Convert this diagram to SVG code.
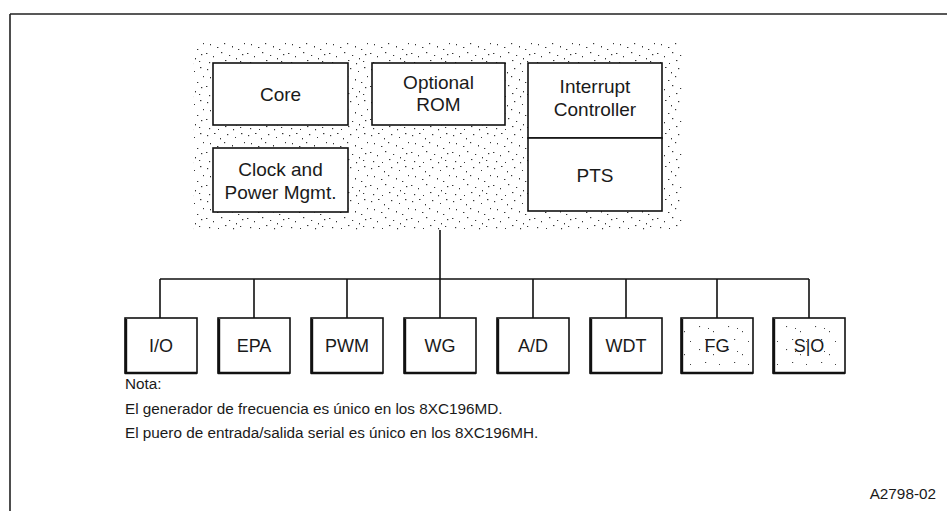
<svg xmlns="http://www.w3.org/2000/svg" width="947" height="511" viewBox="0 0 947 511">
<style>
.box{fill:#fff;stroke:#111;stroke-width:1.6}
.sh{fill:none;stroke:#111;stroke-width:2.4}
.lbl{font-family:"Liberation Sans",Arial,sans-serif;font-size:19px;fill:#1a1a1a;text-anchor:middle}
.sm{font-family:"Liberation Sans",Arial,sans-serif;font-size:18px;fill:#1a1a1a;text-anchor:middle}
.note{font-family:"Liberation Sans",Arial,sans-serif;font-size:15.3px;fill:#1a1a1a}
.conn{fill:none;stroke:#111;stroke-width:1.6}
</style>
<defs>
<pattern id="dots" x="0" y="0" width="41" height="33" patternUnits="userSpaceOnUse">
<g fill="#333">
<rect x="2" y="3" width="1.2" height="1.2"/><rect x="9" y="1" width="1.5" height="1"/><rect x="15" y="6" width="1" height="1.4"/>
<rect x="22" y="2" width="1.3" height="1.2"/><rect x="30" y="5" width="1" height="1"/><rect x="36" y="1" width="1.4" height="1.2"/>
<rect x="5" y="11" width="1" height="1.3"/><rect x="12" y="14" width="1.4" height="1"/><rect x="19" y="10" width="1.2" height="1.2"/>
<rect x="27" y="13" width="1" height="1.5"/><rect x="33" y="16" width="1.3" height="1"/><rect x="39" y="10" width="1" height="1.2"/>
<rect x="1" y="20" width="1.4" height="1"/><rect x="8" y="23" width="1" height="1.3"/><rect x="16" y="19" width="1.3" height="1.2"/>
<rect x="24" y="22" width="1.2" height="1"/><rect x="31" y="25" width="1" height="1.4"/><rect x="37" y="21" width="1.3" height="1.2"/>
<rect x="4" y="29" width="1.2" height="1.2"/><rect x="13" y="30" width="1" height="1"/><rect x="20" y="27" width="1.4" height="1.1"/>
<rect x="28" y="30" width="1.1" height="1.3"/><rect x="35" y="28" width="1.2" height="1"/>
</g>
</pattern>
<pattern id="dots2" x="0" y="0" width="29" height="23" patternUnits="userSpaceOnUse">
<g fill="#444">
<rect x="3" y="4" width="1.1" height="1.1"/><rect x="17" y="9" width="1" height="1.2"/><rect x="9" y="17" width="1.2" height="1"/><rect x="23" y="19" width="1" height="1"/><rect x="12" y="6" width="1" height="1"/>
</g>
</pattern>
</defs>

<!-- frame -->
<path d="M10 14 H947 M10 14 V511" fill="none" stroke="#222" stroke-width="1.6"/>

<!-- shaded processor area -->
<g id="processor">
<rect x="193" y="43" width="490" height="187" fill="url(#dots)"/>
</g>

<g id="core">
<rect class="box" x="213" y="63" width="135" height="62"/>
<text class="lbl" x="280.5" y="101">Core</text>
</g>
<g id="rom">
<rect class="box" x="372" y="63" width="133" height="62"/>
<text class="lbl" x="438.5" y="89">Optional</text>
<text class="lbl" x="438.5" y="111">ROM</text>
</g>
<g id="interrupt">
<rect class="box" x="528" y="63" width="134" height="75"/>
<text class="lbl" x="595" y="93">Interrupt</text>
<text class="lbl" x="595" y="116">Controller</text>
</g>
<g id="pts">
<rect class="box" x="528" y="138" width="134" height="73"/>
<text class="lbl" x="595" y="182">PTS</text>
</g>
<g id="clock">
<rect class="box" x="213" y="148" width="135" height="64"/>
<text class="lbl" x="280.5" y="176">Clock and</text>
<text class="lbl" x="280.5" y="199">Power Mgmt.</text>
</g>

<g id="connectors">
<path class="conn" d="M440 230 V279 M160 279 H809 M160 279 V318 M254 279 V318 M347 279 V318 M440 279 V318 M533 279 V318 M626 279 V318 M717 279 V318 M809 279 V318"/>
</g>

<g id="io">
<rect class="box" x="125" y="318" width="72" height="55"/><path class="sh" d="M126 319 V373 H197"/>
<text class="sm" x="161" y="352">I/O</text>
</g>
<g id="epa">
<rect class="box" x="218" y="318" width="72" height="55"/><path class="sh" d="M219 319 V373 H290"/>
<text class="sm" x="254" y="352">EPA</text>
</g>
<g id="pwm">
<rect class="box" x="311" y="318" width="72" height="55"/><path class="sh" d="M312 319 V373 H383"/>
<text class="sm" x="347" y="352">PWM</text>
</g>
<g id="wg">
<rect class="box" x="404" y="318" width="72" height="55"/><path class="sh" d="M405 319 V373 H476"/>
<text class="sm" x="440" y="352">WG</text>
</g>
<g id="ad">
<rect class="box" x="497" y="318" width="72" height="55"/><path class="sh" d="M498 319 V373 H569"/>
<text class="sm" x="533" y="352">A/D</text>
</g>
<g id="wdt">
<rect class="box" x="590" y="318" width="72" height="55"/><path class="sh" d="M591 319 V373 H662"/>
<text class="sm" x="626" y="352">WDT</text>
</g>
<g id="fg">
<rect class="box" x="681" y="318" width="72" height="55"/>
<rect x="682" y="319" width="70" height="53" fill="url(#dots2)"/>
<path class="sh" d="M682 319 V373 H753"/>
<text class="sm" x="717" y="352">FG</text>
</g>
<g id="sio">
<rect class="box" x="773" y="318" width="72" height="55"/>
<rect x="774" y="319" width="70" height="53" fill="url(#dots2)"/>
<path class="sh" d="M774 319 V373 H845"/>
<text class="sm" x="809" y="352">S|O</text>
</g>

<g id="notes">
<text class="note" x="125" y="389">Nota:</text>
<text class="note" x="125" y="414">El generador de frecuencia es único en los  8XC196MD.</text>
<text class="note" x="125" y="438">El puero de entrada/salida serial es único en los 8XC196MH.</text>
<text class="note" x="936" y="499" text-anchor="end" font-size="12">A2798-02</text>
</g>
</svg>
